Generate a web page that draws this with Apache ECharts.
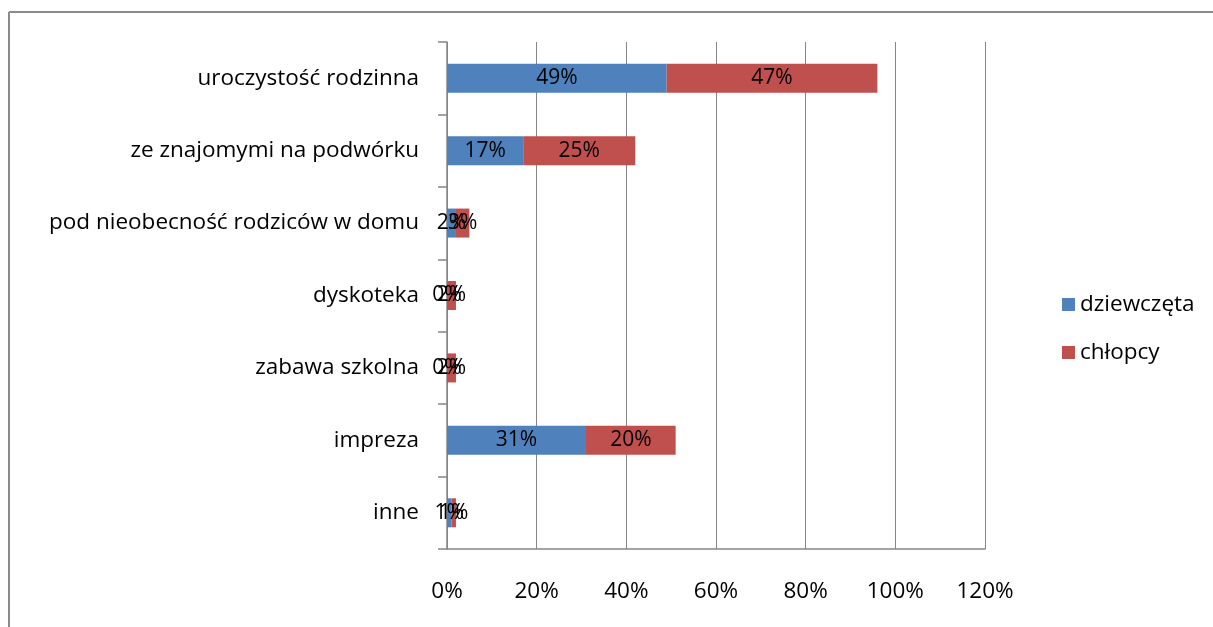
<!DOCTYPE html>
<html><head><meta charset="utf-8">
<script src="https://cdn.jsdelivr.net/npm/echarts@6/dist/echarts.min.js"></script>
<style>html,body{margin:0;padding:0;background:#fff}#c{width:1213px;height:627px}</style>
</head><body><div id="c"></div>
<script>
const categories = ['uroczystość rodzinna','ze znajomymi na podwórku','pod nieobecność rodziców w domu','dyskoteka','zabawa szkolna','impreza','inne'];
const dziewczeta = [49, 17, 2, 0, 0, 31, 1];
const chlopcy = [47, 25, 3, 2, 2, 20, 1];
const xTicks = [0, 20, 40, 60, 80, 100, 120];
const FONT = 'Open Sans';
const FS = 22.5;
const chart = echarts.init(document.getElementById('c'));
const lbl = {show:true, position:'inside', color:'#000', fontFamily:FONT, fontSize:21, formatter: p => p.value + '%'};
chart.setOption({
  animation:false,
  textStyle:{fontFamily:FONT},
  grid:{left:447, top:42, width:538, height:507, containLabel:false},
  xAxis:{type:'value', min:xTicks[0], max:xTicks[xTicks.length-1], interval:20,
    axisLabel:{formatter:'{value}%', color:'#000', fontSize:FS, fontFamily:FONT, margin:31},
    axisLine:{show:true, lineStyle:{color:'#868686', width:1.5}},
    axisTick:{show:false},
    splitLine:{show:true, lineStyle:{color:'#868686', width:1}}},
  yAxis:{type:'category', data:categories, inverse:true,
    axisLabel:{color:'#000', fontSize:FS, fontFamily:FONT, margin:28},
    axisLine:{show:true, lineStyle:{color:'#868686', width:1.5}},
    axisTick:{show:true, length:9, lineStyle:{color:'#868686', width:1.5}}},
  legend:{orient:'vertical', left:1057, top:288, itemWidth:13, itemHeight:13, itemGap:25, icon:'rect',
    textStyle:{fontSize:FS, fontFamily:FONT, color:'#000'},
    data:['dziewczęta','chłopcy']},
  series:[
    {name:'dziewczęta', type:'bar', stack:'a', data:dziewczeta, barWidth:29, itemStyle:{color:'#4F81BD'}, label:lbl},
    {name:'chłopcy', type:'bar', stack:'a', data:chlopcy, barWidth:29, itemStyle:{color:'#C0504D'}, label:lbl}
  ],
  graphic:[
    {type:'line', shape:{x1:9, y1:12, x2:1213, y2:12}, style:{stroke:'#8a8a8a', lineWidth:2}},
    {type:'line', shape:{x1:9, y1:12, x2:9, y2:627}, style:{stroke:'#8a8a8a', lineWidth:2}}
  ]
});
</script></body></html>
